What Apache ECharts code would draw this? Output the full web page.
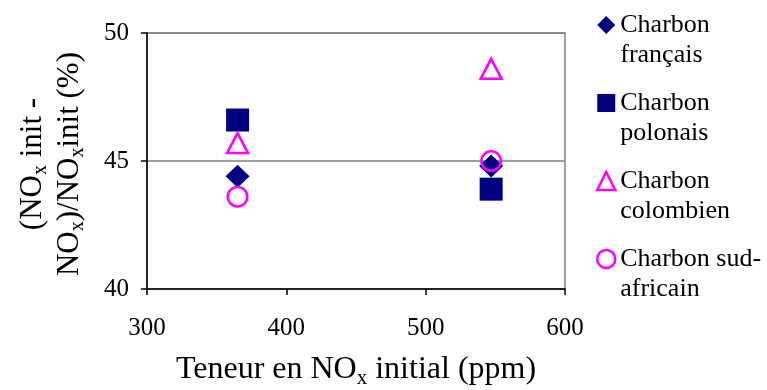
<!DOCTYPE html>
<html>
<head>
<meta charset="utf-8">
<script src="https://cdn.jsdelivr.net/npm/echarts@6/dist/echarts.min.js"></script>
<style>
  html, body { margin: 0; padding: 0; background: #fff; }
  #chart { width: 767px; height: 390px; }
</style>
</head>
<body>
<div id="chart"></div>
<script>
// Initial NOx content (ppm) for the two test runs
const teneurNOx = [365, 547];
// NOx reduction (%) for each coal
const francais = [44.4, 44.8];
const polonais = [46.6, 43.9];
const colombien = [45.7, 48.6];
const sudAfricain = [43.6, 45.0];
// Legend labels (two lines each)
const seriesNames = ['Charbon\nfrançais', 'Charbon\npolonais', 'Charbon\ncolombien', 'Charbon sud-\nafricain'];
// Axis ticks
const xTicks = { min: 300, max: 600, interval: 100 };
const yTicks = { min: 40, max: 50, interval: 5 };

const FONT = "'Liberation Serif', 'Times New Roman', serif";
const NAVY = '#000080';
const MAGENTA = '#FF00FF';

const pairs = vals => teneurNOx.map((x, i) => [x, vals[i]]);

const xTitleRich = {
  n: { fontFamily: FONT, fontSize: 32, color: '#000', lineHeight: 38 },
  s: { fontFamily: FONT, fontSize: 21, color: '#000', lineHeight: 12, verticalAlign: 'bottom' }
};
const yTitleRich = {
  n: { fontFamily: FONT, fontSize: 31, color: '#000', lineHeight: 37 },
  s: { fontFamily: FONT, fontSize: 20, color: '#000', lineHeight: 12, verticalAlign: 'bottom' }
};

const chart = echarts.init(document.getElementById('chart'), null, { renderer: 'canvas' });

chart.setOption({
  animation: false,
  backgroundColor: '#fff',
  grid: {
    left: 147, right: 202, top: 33, bottom: 101,
    containLabel: false,
    outerBoundsMode: 'none',
    show: true, borderColor: '#808080', borderWidth: 1.5, backgroundColor: 'transparent'
  },
  xAxis: {
    type: 'value',
    min: xTicks.min, max: xTicks.max, interval: xTicks.interval,
    name: '{n|Teneur en NO}{s|x}{n| initial (ppm)}',
    nameLocation: 'middle',
    nameGap: 62,
    nameTextStyle: { rich: xTitleRich },
    axisLine: { onZero: false, lineStyle: { color: '#000', width: 1.5 } },
    axisTick: { length: 6, lineStyle: { color: '#000', width: 1.5 } },
    axisLabel: { fontFamily: FONT, fontSize: 25, color: '#000', margin: 27 },
    splitLine: { show: false }
  },
  yAxis: {
    type: 'value',
    min: yTicks.min, max: yTicks.max, interval: yTicks.interval,
    name: '{n|(NO}{s|x}{n| init -}\n{n|NO}{s|x}{n|)/NO}{s|x}{n|init (%)}',
    nameLocation: 'middle',
    nameGap: 59,
    nameTextStyle: { rich: yTitleRich, padding: [0, 6, 0, 0] },
    axisLine: { onZero: false, lineStyle: { color: '#000', width: 1.5 } },
    axisTick: { length: 6, lineStyle: { color: '#000', width: 1.5 } },
    axisLabel: { fontFamily: FONT, fontSize: 25, color: '#000', margin: 18 },
    splitLine: { show: true, lineStyle: { color: '#808080', width: 1.5 } }
  },
  legend: {
    orient: 'vertical',
    left: 596,
    top: -20,
    padding: 0,
    itemGap: -12,
    itemWidth: 18,
    itemHeight: 18,
    // a leading blank line keeps the marker level with the first text line
    formatter: name => '\n' + name,
    textStyle: { fontFamily: FONT, fontSize: 26, color: '#000', lineHeight: 30 },
    data: [
      { name: seriesNames[0], icon: 'diamond', itemStyle: { color: NAVY, opacity: 1, borderWidth: 0 } },
      { name: seriesNames[1], icon: 'rect', itemStyle: { color: NAVY, opacity: 1, borderWidth: 0 } },
      { name: seriesNames[2], icon: 'triangle', itemStyle: { color: 'transparent', opacity: 1, borderColor: MAGENTA, borderWidth: 2.5 } },
      { name: seriesNames[3], icon: 'circle', itemStyle: { color: 'transparent', opacity: 1, borderColor: MAGENTA, borderWidth: 2.5 } }
    ]
  },
  series: [
    {
      name: seriesNames[0], type: 'scatter', symbol: 'diamond', symbolSize: [24, 23],
      itemStyle: { color: NAVY, opacity: 1 }, data: pairs(francais)
    },
    {
      name: seriesNames[1], type: 'scatter', symbol: 'rect', symbolSize: 23,
      itemStyle: { color: NAVY, opacity: 1 }, data: pairs(polonais)
    },
    {
      name: seriesNames[2], type: 'scatter', symbol: 'triangle', symbolSize: [21, 20],
      itemStyle: { color: 'transparent', opacity: 1, borderColor: MAGENTA, borderWidth: 2.5 }, data: pairs(colombien)
    },
    {
      name: seriesNames[3], type: 'scatter', symbol: 'circle', symbolSize: 19.5,
      itemStyle: { color: 'transparent', opacity: 1, borderColor: MAGENTA, borderWidth: 2.5 }, data: pairs(sudAfricain)
    }
  ]
});
</script>
</body>
</html>
